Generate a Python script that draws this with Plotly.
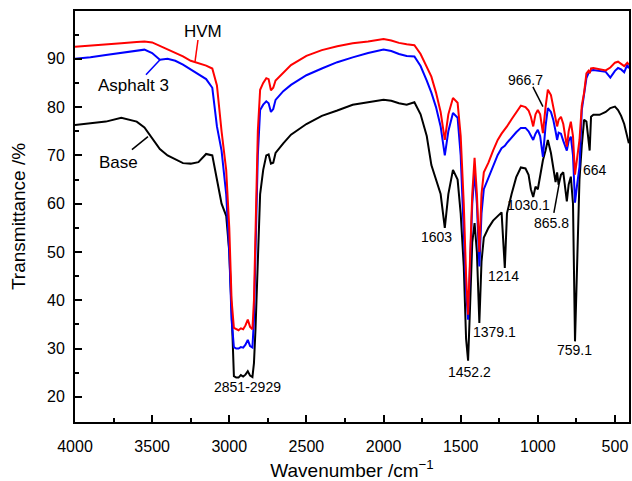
import plotly.graph_objects as go

# FTIR spectra
wavenumber = [4000, 3900, 3800, 3700, 3600, 3550, 3500, 3450, 3400, 3350, 3300, 3250, 3200, 3150,
              3110, 3080, 3050, 3020, 3000, 2985, 2970, 2955, 2940, 2925, 2910, 2895, 2880, 2865,
              2850, 2840, 2830, 2815, 2800, 2780, 2760, 2745, 2730, 2715, 2700, 2650, 2600, 2500,
              2400, 2300, 2200, 2100, 2000, 1950, 1900, 1850, 1800, 1760, 1720, 1690, 1660, 1630,
              1603, 1580, 1550, 1520, 1500, 1480, 1465, 1452, 1440, 1425, 1410, 1395, 1379, 1365,
              1350, 1320, 1290, 1260, 1235, 1214, 1200, 1170, 1140, 1110, 1080, 1060, 1045, 1030,
              1015, 1000, 985, 967, 950, 935, 915, 900, 885, 875, 865, 850, 835, 812, 800, 786,
              772, 759, 745, 730, 715, 700, 685, 672, 664, 655, 640, 600, 560, 530, 500, 480,
              460, 440, 420, 410]

base = [76.3, 76.6, 77.0, 77.8, 77.0, 75.8, 73.5, 71.3, 70.0, 69.2, 68.4, 68.3, 68.6, 70.3,
        70.0, 65.0, 60.0, 57.5, 50.0, 38.0, 24.3, 24.0, 24.0, 24.5, 24.2, 24.6, 25.3, 24.4,
        24.1, 27.0, 34.0, 48.0, 62.0, 67.0, 70.0, 70.2, 68.3, 68.5, 70.5, 72.5, 74.3, 76.5,
        78.2, 79.3, 80.5, 81.0, 81.5, 81.3, 80.8, 80.5, 81.0, 78.5, 74.0, 68.0, 65.0, 62.0,
        55.0, 62.0, 67.0, 65.0, 58.0, 47.0, 32.0, 27.5, 38.0, 52.0, 56.0, 50.0, 35.3, 48.0,
        53.0, 55.0, 56.5, 57.5, 58.2, 46.7, 58.0, 62.0, 65.5, 67.5, 67.3, 66.0, 63.0, 61.4,
        63.5, 63.0, 66.0, 69.0, 71.0, 73.2, 70.5, 67.5, 64.5, 66.5, 63.9, 66.0, 66.5, 60.5, 64.0, 65.6,
        60.0, 31.5, 48.0, 65.0, 72.0, 77.4, 77.0, 73.0, 71.0, 78.0, 78.4, 78.4, 79.0, 79.8, 80.1, 79.4,
        78.2, 76.5, 74.0, 72.5]

asphalt3 = [90.0, 90.3, 90.8, 91.2, 91.7, 91.9, 91.2, 89.8, 90.0, 89.6, 88.8, 87.8, 86.9, 85.8,
            84.0, 76.0, 71.0, 62.0, 50.0, 36.0, 30.3, 30.0, 30.0, 30.3, 30.2, 30.8, 31.8, 30.5,
            30.2, 36.0, 50.0, 70.0, 79.4, 80.5, 81.2, 80.8, 79.0, 79.6, 81.5, 83.3, 84.6, 86.6,
            88.0, 89.3, 90.3, 91.2, 91.9, 91.6, 91.0, 90.6, 90.5, 88.5, 85.5, 83.0, 80.0, 76.0,
            70.0, 75.0, 78.8, 77.8, 70.0, 55.0, 42.0, 36.0, 46.0, 60.0, 66.6, 60.0, 47.0, 58.0,
            63.0, 65.5, 68.0, 70.1, 71.5, 72.0, 72.6, 73.8, 74.8, 75.7, 75.7, 75.0, 74.0, 73.2,
            74.5, 75.3, 74.0, 69.7, 76.0, 79.8, 79.0, 77.4, 75.0, 73.2, 74.7, 74.5, 73.0, 71.0, 73.0, 73.9,
            70.0, 60.2, 64.0, 67.6, 79.4, 83.0, 86.0, 87.0, 87.3, 87.6, 87.7, 87.5, 87.3, 86.1, 87.5, 88.1,
            87.8, 87.2, 88.8, 88.0]

hvm = [92.5, 92.7, 93.0, 93.2, 93.5, 93.6, 93.4, 92.7, 92.0, 91.3, 90.5, 89.6, 89.1, 88.6,
       88.0, 84.5, 75.0, 67.0, 55.0, 40.0, 34.3, 34.0, 33.8, 34.2, 34.0, 34.8, 36.0, 34.5,
       34.0, 40.0, 55.0, 75.0, 83.6, 85.0, 86.0, 85.8, 83.5, 84.0, 85.5, 87.2, 88.7, 90.6,
       91.8, 92.6, 93.2, 93.6, 94.1, 93.8, 93.3, 93.0, 92.8, 91.0, 88.5, 86.3, 83.0, 79.0,
       73.2, 78.5, 81.9, 80.9, 74.0, 60.0, 45.0, 37.0, 48.0, 62.0, 69.5, 62.0, 50.0, 62.0,
       66.5, 68.5, 71.0, 73.2, 74.5, 75.3, 76.0, 77.5, 79.0, 80.3, 80.0, 79.3, 78.0, 76.0,
       78.5, 79.4, 78.5, 74.6, 80.0, 83.6, 82.5, 80.1, 78.0, 76.0, 77.4, 78.0, 76.5, 71.8, 75.0, 77.0,
       74.0, 66.0, 69.5, 73.2, 80.3, 83.0, 87.0, 87.5, 87.0, 88.0, 88.1, 87.9, 87.6, 88.2, 89.2, 89.4,
       89.0, 88.5, 89.2, 88.8]

# peak labels: text, x, y
peak_labels = [("2851-2929", 2885, 22.1), ("1603", 1654, 53.1), ("1452.2", 1440, 25.2),
               ("1379.1", 1278, 33.5), ("1214", 1220, 45.1), ("1030.1", 1058, 59.8),
               ("865.8", 909, 56.0), ("759.1", 760, 29.8), ("664", 630, 67.0),
               ("966.7", 1077, 85.7)]

FONT = "Liberation Sans, Arial, sans-serif"

fig = go.Figure()
fig.add_trace(go.Scatter(x=wavenumber, y=base, mode="lines", name="Base",
                         line=dict(color="black", width=2)))
fig.add_trace(go.Scatter(x=wavenumber, y=asphalt3, mode="lines", name="Asphalt 3",
                         line=dict(color="#0000ff", width=2)))
fig.add_trace(go.Scatter(x=wavenumber, y=hvm, mode="lines", name="HVM",
                         line=dict(color="#ff0000", width=2)))

# series labels with leader lines
for text, tx, ty, x0, y0, x1, y1 in [("HVM", 3170, 95.6, 3203, 93.9, 3222, 89.4),
                                     ("Asphalt 3", 3624, 84.4, 3540, 86.7, 3449, 89.8),
                                     ("Base", 3715, 68.5, 3631, 71.2, 3527, 73.9)]:
    fig.add_annotation(x=tx, y=ty, text=text, showarrow=False,
                       font=dict(size=17, color="black", family=FONT))
    fig.add_shape(type="line", x0=x0, y0=y0, x1=x1, y1=y1,
                  line=dict(color={"HVM": "#ff0000", "Asphalt 3": "#0000ff", "Base": "black"}[text], width=1.5))

for text, tx, ty in peak_labels:
    fig.add_annotation(x=tx, y=ty, text=text, showarrow=False,
                       font=dict(size=14, color="black", family=FONT))

# leader lines for 865.8 and 966.7
fig.add_shape(type="line", x0=896, y0=58.1, x1=863, y1=63.9, line=dict(color="black", width=1.5))
fig.add_shape(type="line", x0=1032, y0=84.2, x1=967, y1=80.1, line=dict(color="black", width=1.5))

fig.update_layout(
    width=632, height=481,
    margin=dict(l=75, r=3, t=11, b=59),
    plot_bgcolor="white", paper_bgcolor="white",
    showlegend=False,
    font=dict(family=FONT, size=16, color="black"),
)
fig.update_xaxes(
    range=[4000, 409], showgrid=False, zeroline=False, automargin=False,
    showline=True, linecolor="black", linewidth=2, mirror=True,
    ticks="inside", ticklen=7, tickwidth=2, tickcolor="black",
    tick0=0, dtick=500, tickfont=dict(size=16), ticklabelstandoff=9,
    minor=dict(ticks="inside", ticklen=4, tickwidth=2, dtick=250, tickcolor="black"),
    title=dict(text="Wavenumber /cm<sup>\u22121</sup>", font=dict(size=19), standoff=14),
)
fig.update_yaxes(
    range=[14.8, 99.9], showgrid=False, zeroline=False, automargin=False,
    showline=True, linecolor="black", linewidth=2, mirror=True,
    ticks="inside", ticklen=7, tickwidth=2, tickcolor="black",
    tick0=0, dtick=10, tickfont=dict(size=16), ticklabelstandoff=5,
    minor=dict(ticks="inside", ticklen=4, tickwidth=2, dtick=5, tickcolor="black"),
    title=dict(text="Transmittance /%", font=dict(size=19), standoff=16),
)

# drop the default page margin so the figure sits at the window's corner
fig.write_html("out.html", config={"displayModeBar": False},
               post_script="document.body.style.margin='0';")
